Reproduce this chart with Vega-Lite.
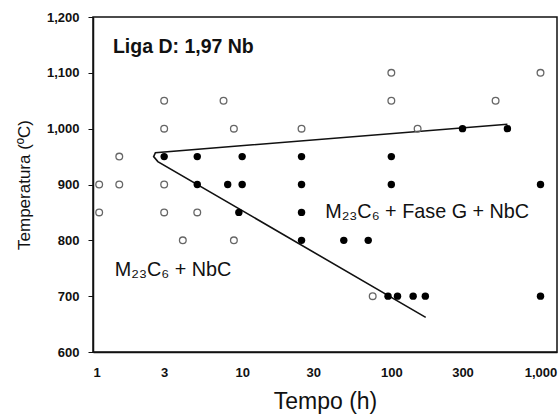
{
  "$schema": "https://vega.github.io/schema/vega-lite/v6.json",
  "autosize": "none",
  "padding": {"left": 93, "top": 17, "right": 1, "bottom": 62},
  "width": 464,
  "height": 335,
  "config": {
    "font": "Liberation Sans",
    "view": {"stroke": "#111", "strokeWidth": 1.5}
  },
  "datasets": {
    "points": [
      {"t": 100, "temp": 1100, "phase": "open"},
      {"t": 1000, "temp": 1100, "phase": "open"},
      {"t": 3, "temp": 1050, "phase": "open"},
      {"t": 7.5, "temp": 1050, "phase": "open"},
      {"t": 100, "temp": 1050, "phase": "open"},
      {"t": 500, "temp": 1050, "phase": "open"},
      {"t": 3, "temp": 1000, "phase": "open"},
      {"t": 8.8, "temp": 1000, "phase": "open"},
      {"t": 25, "temp": 1000, "phase": "open"},
      {"t": 150, "temp": 1000, "phase": "open"},
      {"t": 300, "temp": 1000, "phase": "filled"},
      {"t": 600, "temp": 1000, "phase": "filled"},
      {"t": 1.5, "temp": 950, "phase": "open"},
      {"t": 3, "temp": 950, "phase": "filled"},
      {"t": 5, "temp": 950, "phase": "filled"},
      {"t": 10, "temp": 950, "phase": "filled"},
      {"t": 25, "temp": 950, "phase": "filled"},
      {"t": 100, "temp": 950, "phase": "filled"},
      {"t": 1.1, "temp": 900, "phase": "open"},
      {"t": 1.5, "temp": 900, "phase": "open"},
      {"t": 3, "temp": 900, "phase": "open"},
      {"t": 5, "temp": 900, "phase": "filled"},
      {"t": 8, "temp": 900, "phase": "filled"},
      {"t": 10, "temp": 900, "phase": "filled"},
      {"t": 25, "temp": 900, "phase": "filled"},
      {"t": 100, "temp": 900, "phase": "filled"},
      {"t": 1000, "temp": 900, "phase": "filled"},
      {"t": 1.1, "temp": 850, "phase": "open"},
      {"t": 3, "temp": 850, "phase": "open"},
      {"t": 5, "temp": 850, "phase": "open"},
      {"t": 9.5, "temp": 850, "phase": "filled"},
      {"t": 25, "temp": 850, "phase": "filled"},
      {"t": 4, "temp": 800, "phase": "open"},
      {"t": 8.8, "temp": 800, "phase": "open"},
      {"t": 25, "temp": 800, "phase": "filled"},
      {"t": 48, "temp": 800, "phase": "filled"},
      {"t": 70, "temp": 800, "phase": "filled"},
      {"t": 75, "temp": 700, "phase": "open"},
      {"t": 95, "temp": 700, "phase": "filled"},
      {"t": 110, "temp": 700, "phase": "filled"},
      {"t": 140, "temp": 700, "phase": "filled"},
      {"t": 169, "temp": 700, "phase": "filled"},
      {"t": 1000, "temp": 700, "phase": "filled"}
    ],
    "boundary": [
      {"t": 600, "temp": 1008, "o": 1},
      {"t": 2.62, "temp": 957, "o": 2},
      {"t": 2.55, "temp": 950, "o": 3},
      {"t": 2.72, "temp": 941, "o": 4},
      {"t": 170, "temp": 662, "o": 5}
    ],
    "title": [
      {"t": 1.36, "temp": 1146, "txt": "Liga D: 1,97 Nb"}
    ],
    "regions": [
      {"t": 36, "temp": 850, "txt": "M₂₃C₆ + Fase G + NbC"},
      {"t": 1.4, "temp": 747, "txt": "M₂₃C₆ + NbC"}
    ]
  },
  "encoding": {
    "x": {
      "field": "t", "type": "quantitative",
      "scale": {"type": "log", "domain": [1, 1290], "nice": false},
      "axis": {
        "title": "Tempo (h)", "values": [1, 3, 10, 30, 100, 300, 1000], "format": ",.0f",
        "grid": false, "domain": true, "domainColor": "#111", "domainWidth": 1.5,
        "ticks": false, "labelFontSize": 13, "labelFontWeight": "bold", "labelColor": "#111",
        "labelPadding": 14, "titleFontSize": 23, "titleFontWeight": "normal", "titleColor": "#111",
        "titlePadding": 11
      }
    },
    "y": {
      "field": "temp", "type": "quantitative",
      "scale": {"domain": [600, 1200], "nice": false},
      "axis": {
        "title": "Temperatura (ºC)", "values": [600, 700, 800, 900, 1000, 1100, 1200], "format": ",.0f",
        "grid": false, "domain": true, "domainColor": "#111", "domainWidth": 1.5,
        "ticks": true, "tickSize": 5, "tickColor": "#111", "labelFontSize": 13, "labelFontWeight": "bold",
        "labelColor": "#111", "labelPadding": 9, "titleFontSize": 17, "titleFontWeight": "normal",
        "titleColor": "#111", "titlePadding": 13
      }
    }
  },
  "layer": [
    {
      "data": {"name": "boundary"},
      "mark": {"type": "line", "color": "#111", "strokeWidth": 1.6},
      "encoding": {"order": {"field": "o", "type": "quantitative"}}
    },
    {
      "data": {"name": "points"},
      "transform": [{"filter": "datum.phase == 'open'"}],
      "mark": {"type": "point", "shape": "circle", "size": 45, "filled": false, "stroke": "#666", "strokeWidth": 1.3, "opacity": 1}
    },
    {
      "data": {"name": "points"},
      "transform": [{"filter": "datum.phase == 'filled'"}],
      "mark": {"type": "circle", "size": 55, "color": "#000", "opacity": 1}
    },
    {
      "data": {"name": "title"},
      "mark": {"type": "text", "align": "left", "baseline": "middle", "color": "#111", "fontSize": 19.5, "fontWeight": "bold"},
      "encoding": {"text": {"field": "txt"}}
    },
    {
      "data": {"name": "regions"},
      "mark": {"type": "text", "align": "left", "baseline": "middle", "color": "#111", "fontSize": 19.8},
      "encoding": {"text": {"field": "txt"}}
    }
  ]
}
